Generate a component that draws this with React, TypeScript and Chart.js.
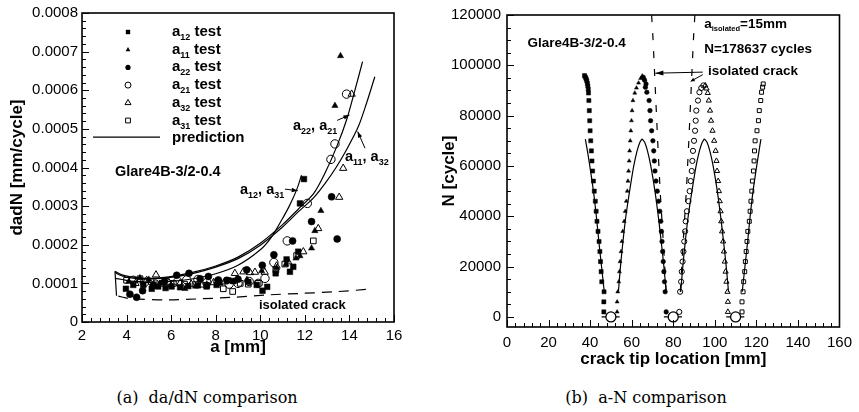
import React, { useEffect, useRef } from 'react';
import { Chart, registerables } from 'chart.js';

Chart.register(...registerables);

const FONT = '"Liberation Sans", Arial, Helvetica, sans-serif';

// ================= Panel (a): da/dN vs a =================
const aTicks = [2, 4, 6, 8, 10, 12, 14, 16];
const dadnTicks = [0, 0.0001, 0.0002, 0.0003, 0.0004, 0.0005, 0.0006, 0.0007, 0.0008];

// test data (a [mm], da/dN [mm/cycle])
const a12TestA = [3.97, 4.3, 4.75, 5.13, 5.42, 5.75, 6.02, 6.4, 6.77, 7.2, 7.59, 8.04, 8.56, 8.79, 9.46, 9.84, 10.1, 10.31, 10.69, 11.18, 11.33, 11.48, 11.7, 11.78, 11.96];
const a12TestV = [0.86e-4, 0.96e-4, 0.96e-4, 0.86e-4, 0.92e-4, 0.88e-4, 0.92e-4, 0.9e-4, 0.93e-4, 0.95e-4, 0.92e-4, 0.96e-4, 1.08e-4, 1.06e-4, 1.04e-4, 0.96e-4, 0.81e-4, 0.91e-4, 1.26e-4, 1.62e-4, 1.3e-4, 1.43e-4, 1.82e-4, 3.07e-4, 3.7e-4];

const a11TestA = [4.1, 4.6, 5.0, 5.5, 6.0, 6.62, 7.1, 7.6, 8.2, 8.8, 9.4, 10.06, 10.73, 11.15, 11.6, 11.78, 12.3, 12.45, 12.72, 13.35, 13.6];
const a11TestV = [1.05e-4, 1.14e-4, 1.1e-4, 1.0e-4, 0.95e-4, 0.86e-4, 0.92e-4, 0.98e-4, 1.0e-4, 1.05e-4, 1.1e-4, 1.32e-4, 1.4e-4, 1.49e-4, 1.65e-4, 1.71e-4, 1.91e-4, 2.36e-4, 2.88e-4, 5.6e-4, 6.89e-4];

const a22TestA = [4.15, 4.45, 4.72, 5.2, 5.7, 6.25, 6.8, 7.3, 7.67, 8.12, 8.5, 9.0, 9.39, 10.09, 10.61, 11.45, 12.3, 13.2, 13.45];
const a22TestV = [0.72e-4, 0.64e-4, 0.81e-4, 0.95e-4, 1.05e-4, 1.21e-4, 1.26e-4, 1.12e-4, 1.18e-4, 1.09e-4, 1.08e-4, 1.11e-4, 1.35e-4, 1.47e-4, 1.74e-4, 2.1e-4, 2.6e-4, 3.24e-4, 2.15e-4];

const a21TestA = [4.3, 4.8, 5.3, 5.8, 6.3, 6.7, 7.2, 7.6, 8.1, 8.6, 9.0, 9.5, 9.91, 10.21, 10.61, 11.21, 12.11, 13.17, 13.35, 13.87];
const a21TestV = [1.08e-4, 1.02e-4, 0.98e-4, 1.02e-4, 1.05e-4, 1.09e-4, 1.1e-4, 1.02e-4, 1.05e-4, 0.98e-4, 1.0e-4, 1.05e-4, 1.0e-4, 1.13e-4, 1.54e-4, 2.1e-4, 3.07e-4, 4.21e-4, 4.61e-4, 5.9e-4];

const a32TestA = [4.4, 4.9, 5.32, 5.9, 6.4, 6.9, 7.4, 7.9, 8.4, 8.86, 9.24, 9.54, 9.76, 10.2, 10.73, 11.25, 11.93, 12.6, 13.54, 13.72, 14.1];
const a32TestV = [1.0e-4, 1.08e-4, 1.22e-4, 1.02e-4, 1.0e-4, 0.98e-4, 0.96e-4, 1.02e-4, 1.04e-4, 1.26e-4, 1.3e-4, 1.28e-4, 1.29e-4, 1.29e-4, 1.45e-4, 1.56e-4, 1.82e-4, 2.42e-4, 3.23e-4, 3.98e-4, 5.9e-4];

const a31TestA = [4.0, 4.6, 5.1, 5.6, 6.1, 6.6, 7.1, 7.6, 8.34, 8.76, 9.1, 9.46, 9.9, 10.7, 11.1, 11.63, 12.38];
const a31TestV = [1.08e-4, 1.12e-4, 1.05e-4, 1.0e-4, 1.0e-4, 0.98e-4, 0.97e-4, 0.95e-4, 0.86e-4, 0.79e-4, 1.0e-4, 0.98e-4, 1.0e-4, 1.35e-4, 1.5e-4, 1.72e-4, 2.1e-4];

// predictions
const predA22A = [3.48, 3.8, 4.2, 4.8, 5.8, 7.0, 8.0, 9.0, 10.0, 11.0, 11.7, 12.4, 12.9, 13.43, 13.87, 14.25, 14.59];
const predA22V = [1.31e-4, 1.22e-4, 1.17e-4, 1.13e-4, 1.16e-4, 1.29e-4, 1.45e-4, 1.68e-4, 2.04e-4, 2.52e-4, 2.92e-4, 3.33e-4, 3.85e-4, 4.54e-4, 5.23e-4, 6.01e-4, 6.74e-4];
const predA11A = [3.48, 3.8, 4.2, 4.8, 5.8, 7.0, 8.0, 9.0, 10.0, 11.0, 11.7, 12.4, 12.9, 13.4, 13.87, 14.4, 14.77, 15.14];
const predA11V = [1.28e-4, 1.19e-4, 1.14e-4, 1.11e-4, 1.14e-4, 1.26e-4, 1.42e-4, 1.64e-4, 1.99e-4, 2.46e-4, 2.85e-4, 3.22e-4, 3.58e-4, 4.0e-4, 4.46e-4, 5.06e-4, 5.67e-4, 6.35e-4];
const predA12A = [3.48, 3.8, 4.2, 5.0, 6.0, 7.0, 8.0, 9.0, 10.0, 10.5, 10.96, 11.3, 11.63, 11.85];
const predA12V = [1.13e-4, 1.1e-4, 1.06e-4, 1.03e-4, 1.05e-4, 1.12e-4, 1.25e-4, 1.47e-4, 1.87e-4, 2.2e-4, 2.64e-4, 3.0e-4, 3.42e-4, 3.8e-4];
const predHookA = [3.48, 3.55];
const predHookV = [1.31e-4, 0.68e-4];
const isoA = [3.63, 4.0, 4.6, 5.8, 7.3, 8.8, 10.29, 11.8, 13.27, 14.92];
const isoV = [0.67e-4, 0.62e-4, 0.59e-4, 0.57e-4, 0.6e-4, 0.64e-4, 0.7e-4, 0.74e-4, 0.78e-4, 0.85e-4];

// ================= Panel (b): N vs crack tip location =================
const locTicks = [0, 20, 40, 60, 80, 100, 120, 140, 160];
const nTicks = [0, 20000, 40000, 60000, 80000, 100000, 120000];

const b12X = [46.6, 46.6, 46.7, 45.6, 45.3, 45.0, 44.7, 44.3, 43.8, 43.3, 42.9, 42.5, 42.0, 41.6, 41.2, 40.9, 40.6, 40.3, 40.0, 39.8, 39.6, 39.4, 39.2, 39.1, 38.9, 38.7, 38.4, 38.1, 37.7, 37.3];
const b12N = [2000, 6000, 10000, 14000, 18000, 22000, 26000, 30000, 34000, 38000, 42000, 46000, 50000, 54000, 58000, 62000, 66000, 70000, 74000, 78000, 82000, 86000, 89000, 90500, 91800, 92800, 93800, 94600, 95300, 95900];

const b11X = [53.0, 53.0, 53.3, 53.8, 54.1, 54.4, 54.9, 55.3, 55.7, 56.4, 56.9, 57.4, 57.9, 58.2, 58.5, 58.8, 59.0, 59.3, 59.6, 59.9, 60.2, 60.6, 61.5, 62.3, 63.3, 64.3, 65.1];
const b11N = [2000, 6000, 10000, 14000, 18000, 22000, 26000, 30000, 34000, 38000, 42000, 46000, 50000, 54000, 58000, 62000, 66000, 70000, 74000, 78000, 82000, 86000, 89000, 91000, 93000, 94800, 95800];

const b22X = [76.6, 76.1, 75.8, 75.5, 75.2, 74.9, 74.6, 74.3, 74.0, 73.5, 72.9, 72.3, 71.7, 71.2, 70.9, 70.6, 70.2, 69.6, 69.1, 68.8, 68.4, 67.3, 66.6, 66.9, 66.2, 65.6];
const b22N = [2000, 10000, 14000, 18000, 22000, 26000, 30000, 34000, 38000, 42000, 46000, 50000, 54000, 58000, 62000, 66000, 70000, 74000, 78000, 82000, 86000, 89300, 91300, 92600, 94100, 95200];

const b21X = [82.9, 83.3, 83.8, 84.1, 84.5, 84.9, 85.3, 85.7, 86.0, 86.6, 87.3, 87.9, 88.4, 88.9, 89.2, 89.5, 90.0, 90.5, 90.8, 91.1, 91.9, 92.6, 93.5, 94.5];
const b21N = [2000, 10000, 14000, 18000, 22000, 26000, 30000, 34000, 38000, 42000, 46000, 50000, 54000, 58000, 62000, 66000, 70000, 74000, 78000, 82000, 86000, 89300, 91000, 92000];

const b32X = [106.3, 106.3, 106.1, 105.6, 105.2, 104.8, 104.4, 104.0, 103.5, 103.1, 102.8, 102.4, 102.0, 101.6, 101.1, 100.8, 100.4, 99.7, 98.9, 98.2, 97.7, 97.1, 96.6, 96.0, 95.4];
const b32N = [2000, 6000, 10000, 14000, 18000, 22000, 26000, 30000, 34000, 38000, 42000, 46000, 50000, 54000, 58000, 62000, 66000, 70000, 74000, 78000, 82000, 86000, 89000, 90800, 92000];

const b31X = [113.1, 113.1, 113.6, 113.9, 114.4, 114.7, 115.1, 115.5, 115.9, 116.6, 117.0, 117.4, 117.8, 118.1, 118.6, 118.9, 119.1, 119.4, 120.3, 121.0, 121.4, 122.1, 122.5, 123.0, 123.3];
const b31N = [2000, 6000, 10000, 14000, 18000, 22000, 26000, 30000, 34000, 38000, 42000, 46000, 50000, 54000, 58000, 62000, 66000, 70000, 74000, 78000, 82000, 86000, 89300, 91300, 92600];

// predictions (b)
const pb12X = [46.8, 45.5, 44.2, 43.0, 41.6, 40.2, 38.9, 37.7];
const pb12N = [10000, 20000, 30000, 40000, 50000, 58000, 65000, 70700];
const pb11X = [53.6, 54.6, 55.8, 57.2, 59.0, 61.0, 62.6, 64.0, 65.0];
const pb11N = [10000, 20000, 30000, 40000, 50000, 60000, 66000, 69500, 70800];
const pb22X = [65.0, 66.2, 67.6, 69.2, 71.2, 72.8, 74.2, 75.5, 76.6];
const pb22N = [70800, 69500, 66000, 60000, 50000, 40000, 30000, 20000, 10000];
const pb21X = [83.6, 84.6, 85.8, 87.2, 89.0, 91.0, 92.6, 94.0, 95.0];
const pb21N = [10000, 20000, 30000, 40000, 50000, 60000, 66000, 69500, 70800];
const pb32X = [95.0, 96.2, 97.6, 99.2, 101.2, 102.8, 104.2, 105.5, 106.6];
const pb32N = [70800, 69500, 66000, 60000, 50000, 40000, 30000, 20000, 10000];
const pb31X = [113.2, 114.5, 115.8, 117.0, 118.4, 119.8, 121.1, 122.2];
const pb31N = [10000, 20000, 30000, 40000, 50000, 58000, 65000, 70700];

const isoLeftX = [76.6, 75.2, 73.7, 72.5, 71.4, 70.3, 69.6];
const isoRightX = [83.4, 84.8, 86.3, 87.5, 88.6, 89.7, 90.4];
const isoN = [10000, 30000, 50000, 70000, 90000, 110000, 120000];

const holeX = [50, 80, 110];
const holeN = [0, 0, 0];
const holeLineFrom = [45.5, 75.5, 105.5];
const holeLineTo = [54.2, 84.2, 114.2];

// ================= helpers =================
const pts = (xs: number[], ys: number[]) => xs.map((x, i) => ({ x, y: ys[i] }));

const markers = (data: any[], style: string, r: number, filled: boolean) => ({
  data,
  showLine: false,
  pointStyle: style,
  pointRadius: r,
  pointBorderWidth: filled ? 0.5 : 1,
  pointBackgroundColor: filled ? '#000' : 'rgba(0,0,0,0)',
  pointBorderColor: '#000',
  backgroundColor: filled ? '#000' : 'rgba(0,0,0,0)',
  borderColor: '#000',
});

const curve = (data: any[], dash: number[] = [], tension = 0.3, width = 1.2) => ({
  data,
  showLine: true,
  pointRadius: 0,
  borderColor: '#000',
  borderWidth: width,
  borderDash: dash,
  tension,
  fill: false,
});

type Seg = { t: string; sub?: boolean };

function drawRich(ctx: CanvasRenderingContext2D, x: number, y: number, segs: Seg[], size: number, subSize: number, subDrop: number) {
  let cx = x;
  ctx.textAlign = 'left';
  ctx.textBaseline = 'alphabetic';
  for (const s of segs) {
    ctx.font = `bold ${s.sub ? subSize : size}px ${FONT}`;
    ctx.fillText(s.t, cx, s.sub ? y + subDrop : y);
    cx += ctx.measureText(s.t).width;
  }
}

function drawMarker(ctx: CanvasRenderingContext2D, style: string, x: number, y: number, s: number, filled: boolean) {
  ctx.beginPath();
  if (style === 'rect') ctx.rect(x - s, y - s, 2 * s, 2 * s);
  else if (style === 'triangle') {
    ctx.moveTo(x, y - s * 1.15);
    ctx.lineTo(x + s, y + s * 0.6);
    ctx.lineTo(x - s, y + s * 0.6);
    ctx.closePath();
  } else ctx.arc(x, y, s, 0, Math.PI * 2);
  if (filled) ctx.fill();
  else ctx.stroke();
}

function arrow(ctx: CanvasRenderingContext2D, x1: number, y1: number, x2: number, y2: number, head = 7, w = 2.5) {
  ctx.beginPath();
  ctx.moveTo(x1, y1);
  ctx.lineTo(x2, y2);
  ctx.stroke();
  const ang = Math.atan2(y2 - y1, x2 - x1);
  const bx = x2 - head * Math.cos(ang);
  const by = y2 - head * Math.sin(ang);
  ctx.beginPath();
  ctx.moveTo(x2, y2);
  ctx.lineTo(bx + w * Math.sin(ang), by - w * Math.cos(ang));
  ctx.lineTo(bx - w * Math.sin(ang), by + w * Math.cos(ang));
  ctx.closePath();
  ctx.fill();
}

function frameAndTicks(ctx: CanvasRenderingContext2D, ca: any, xs: any, ys: any, xMajor: number, xMinor: number, yMajor: number, yMinor: number) {
  ctx.strokeStyle = '#000';
  ctx.lineWidth = 1;
  ctx.beginPath();
  const isMajor = (v: number, m: number) => Math.abs(v / m - Math.round(v / m)) < 1e-6;
  for (let k = Math.ceil(xs.min / xMinor - 1e-9); k <= Math.floor(xs.max / xMinor + 1e-9); k++) {
    const v = k * xMinor;
    const len = isMajor(v, xMajor) ? 7 : 4;
    const p = Math.round(xs.getPixelForValue(v)) + 0.5;
    ctx.moveTo(p, ca.bottom);
    ctx.lineTo(p, ca.bottom - len);
  }
  for (let k = Math.ceil(ys.min / yMinor - 1e-9); k <= Math.floor(ys.max / yMinor + 1e-9); k++) {
    const v = k * yMinor;
    const len = isMajor(v, yMajor) ? 7 : 4;
    const p = Math.round(ys.getPixelForValue(v)) + 0.5;
    ctx.moveTo(ca.left, p);
    ctx.lineTo(ca.left + len, p);
  }
  ctx.stroke();
  ctx.lineWidth = 1.6;
  ctx.strokeRect(ca.left, ca.top, ca.right - ca.left, ca.bottom - ca.top);
}

const legendA: { segs: Seg[]; style: string; size: number; filled: boolean }[] = [
  { segs: [{ t: 'a' }, { t: '12', sub: true }, { t: ' test' }], style: 'rect', size: 2.2, filled: true },
  { segs: [{ t: 'a' }, { t: '11', sub: true }, { t: ' test' }], style: 'triangle', size: 2.4, filled: true },
  { segs: [{ t: 'a' }, { t: '22', sub: true }, { t: ' test' }], style: 'circle', size: 2.6, filled: true },
  { segs: [{ t: 'a' }, { t: '21', sub: true }, { t: ' test' }], style: 'circle', size: 3, filled: false },
  { segs: [{ t: 'a' }, { t: '32', sub: true }, { t: ' test' }], style: 'triangle', size: 3, filled: false },
  { segs: [{ t: 'a' }, { t: '31', sub: true }, { t: ' test' }], style: 'rect', size: 2.4, filled: false },
];

const leftPlugin = {
  id: 'leftDeco',
  afterDraw(chart: any) {
    const { ctx, chartArea: ca } = chart;
    const xs = chart.scales.x;
    const ys = chart.scales.y;
    const X = (v: number) => xs.getPixelForValue(v);
    const Y = (v: number) => ys.getPixelForValue(v);
    ctx.save();
    frameAndTicks(ctx, ca, xs, ys, 2, 0.4, 0.0001, 0.00002);
    ctx.fillStyle = '#000';
    ctx.strokeStyle = '#000';
    ctx.lineWidth = 1;
    // legend
    legendA.forEach((it, i) => {
      const base = ca.top + 23 + i * 17.7;
      drawMarker(ctx, it.style, ca.left + 46, base - 4, it.size, it.filled);
      drawRich(ctx, ca.left + 90, base, it.segs, 15, 9, 4);
    });
    const pb = ca.top + 23 + 6 * 17.7;
    ctx.lineWidth = 1.2;
    ctx.beginPath();
    ctx.moveTo(ca.left + 11, pb - 5);
    ctx.lineTo(ca.left + 78, pb - 5);
    ctx.stroke();
    drawRich(ctx, ca.left + 90, pb, [{ t: 'prediction' }], 15, 9, 4);
    // annotations
    drawRich(ctx, X(3.48), Y(0.000378), [{ t: 'Glare4B-3/2-0.4' }], 14.5, 9, 4);
    drawRich(ctx, X(11.47), Y(0.000496), [{ t: 'a' }, { t: '22', sub: true }, { t: ', a' }, { t: '21', sub: true }], 14.5, 9, 4);
    drawRich(ctx, X(13.8), Y(0.000418), [{ t: 'a' }, { t: '11', sub: true }, { t: ', a' }, { t: '32', sub: true }], 14.5, 9, 4);
    drawRich(ctx, X(9.09), Y(0.000331), [{ t: 'a' }, { t: '12', sub: true }, { t: ', a' }, { t: '31', sub: true }], 14.5, 9, 4);
    drawRich(ctx, X(9.94), Y(0.0000345), [{ t: 'isolated crack' }], 13, 9, 4);
    ctx.lineWidth = 1;
    arrow(ctx, X(13.45), Y(0.000522), X(14.0), Y(0.000536), 6, 2.2);
    arrow(ctx, X(14.7), Y(0.00045), X(14.37), Y(0.000493), 6, 2.2);
    arrow(ctx, X(11.11), Y(0.000344), X(11.68), Y(0.00034), 6, 2.2);
    ctx.restore();
  },
};

const rightPlugin = {
  id: 'rightDeco',
  afterDraw(chart: any) {
    const { ctx, chartArea: ca } = chart;
    const xs = chart.scales.x;
    const ys = chart.scales.y;
    const X = (v: number) => xs.getPixelForValue(v);
    const Y = (v: number) => ys.getPixelForValue(v);
    ctx.save();
    frameAndTicks(ctx, ca, xs, ys, 20, 4, 20000, 5000);
    ctx.fillStyle = '#000';
    ctx.strokeStyle = '#000';
    drawRich(ctx, X(9.9), Y(107150), [{ t: 'Glare4B-3/2-0.4' }], 13.5, 8, 3);
    drawRich(ctx, X(94.9), Y(115000), [{ t: 'a' }, { t: 'isolated', sub: true }, { t: '=15mm' }], 13.5, 7.5, 3);
    drawRich(ctx, X(94.9), Y(104960), [{ t: 'N=178637 cycles' }], 13.5, 8, 3);
    drawRich(ctx, X(96.7), Y(96200), [{ t: 'isolated crack' }], 13.5, 8, 3);
    ctx.lineWidth = 1;
    arrow(ctx, X(94.2), Y(97300), X(71.4), Y(96870), 8, 2.5);
    arrow(ctx, X(94.2), Y(96300), X(88.4), Y(93630), 4, 2);
    ctx.restore();
  },
};

function axisCommon(min: number, max: number, ticks: number[], fmt: (v: number) => string, pad: number) {
  return {
    type: 'linear' as const,
    min,
    max,
    afterBuildTicks: (s: any) => {
      s.ticks = ticks.map((v) => ({ value: v }));
    },
    grid: { display: false, drawTicks: false },
    border: { display: false },
    ticks: {
      color: '#000',
      font: { family: FONT, size: 15 },
      padding: pad,
      autoSkip: false,
      maxRotation: 0,
      callback: (v: any) => fmt(Number(v)),
    },
  };
}

function leftConfig(): any {
  return {
    type: 'scatter',
    data: {
      datasets: [
        markers(pts(a12TestA, a12TestV), 'rect', 4, true),
        markers(pts(a11TestA, a11TestV), 'triangle', 3.6, true),
        markers(pts(a22TestA, a22TestV), 'circle', 3.5, true),
        markers(pts(a21TestA, a21TestV), 'circle', 4.2, false),
        markers(pts(a32TestA, a32TestV), 'triangle', 4.2, false),
        markers(pts(a31TestA, a31TestV), 'rect', 4, false),
        curve(pts(predA22A, predA22V)),
        curve(pts(predA11A, predA11V)),
        curve(pts(predA12A, predA12V)),
        curve(pts(predHookA, predHookV), [], 0),
        curve(pts(isoA, isoV), [10, 7], 0.3),
      ],
    },
    options: {
      animation: false,
      responsive: false,
      events: [],
      layout: { padding: { left: 0, right: 36, top: 13, bottom: 0 } },
      plugins: { legend: { display: false }, tooltip: { enabled: false } },
      scales: {
        x: {
          ...axisCommon(2, 16, aTicks, (v) => String(v), 5),
          afterFit: (s: any) => {
            s.height = 48;
          },
          title: { display: true, text: 'a [mm]', color: '#000', font: { family: FONT, size: 17, weight: 'bold' }, padding: { top: 0, bottom: 12 } },
        },
        y: {
          ...axisCommon(0, 0.0008, dadnTicks, (v) => (Math.abs(v) < 1e-12 ? '0' : v.toFixed(4)), 4),
          afterFit: (s: any) => {
            s.width = 82;
          },
          title: { display: true, text: 'dadN [mm/cycle]', color: '#000', font: { family: FONT, size: 17, weight: 'bold' }, padding: { top: 7, bottom: 0 } },
        },
      },
    },
    plugins: [leftPlugin],
  };
}

function rightConfig(): any {
  return {
    type: 'scatter',
    data: {
      datasets: [
        {
          ...markers(pts(holeX, holeN), 'circle', 5, false),
          pointBackgroundColor: '#fff',
          pointBorderWidth: 1.3,
        },
        markers(pts(b12X, b12N), 'rect', 2.9, true),
        markers(pts(b11X, b11N), 'triangle', 2.3, true),
        markers(pts(b22X, b22N), 'circle', 2.3, true),
        markers(pts(b21X, b21N), 'circle', 2.6, false),
        markers(pts(b32X, b32N), 'triangle', 3, false),
        markers(pts(b31X, b31N), 'rect', 2.8, false),
        curve(pts(pb12X, pb12N)),
        curve(pts(pb11X, pb11N)),
        curve(pts(pb22X, pb22N)),
        curve(pts(pb21X, pb21N)),
        curve(pts(pb32X, pb32N)),
        curve(pts(pb31X, pb31N)),
        curve(pts(isoLeftX, isoN), [7, 11], 0),
        curve(pts(isoRightX, isoN), [7, 11], 0),
        ...holeLineFrom.map((x0, i) => curve(pts([x0, holeLineTo[i]], [holeN[i], holeN[i]]), [], 0, 1.3)),
      ],
    },
    options: {
      animation: false,
      responsive: false,
      events: [],
      layout: { padding: { left: 0, right: 13, top: 10, bottom: 0 } },
      plugins: { legend: { display: false }, tooltip: { enabled: false } },
      scales: {
        x: {
          ...axisCommon(0, 160, locTicks, (v) => String(v), 7),
          afterFit: (s: any) => {
            s.height = 43;
          },
          title: { display: true, text: 'crack tip location [mm]', color: '#000', font: { family: FONT, size: 17, weight: 'bold' }, padding: { top: 0, bottom: 0 } },
        },
        y: {
          ...axisCommon(-4000, 120000, nTicks, (v) => String(v), 6),
          afterFit: (s: any) => {
            s.width = 77;
          },
          title: { display: true, text: 'N [cycle]', color: '#000', font: { family: FONT, size: 17, weight: 'bold' }, padding: { top: 9, bottom: 0 } },
        },
      },
    },
    plugins: [rightPlugin],
  };
}

const captionStyle = (cx: number): React.CSSProperties => ({
  position: 'absolute',
  left: cx,
  top: 390,
  transform: 'translateX(-50%)',
  whiteSpace: 'nowrap',
  fontFamily: '"DejaVu Serif", serif',
  fontSize: 16,
  lineHeight: '16px',
  color: '#000',
});

export default function App() {
  const leftRef = useRef<HTMLCanvasElement>(null);
  const rightRef = useRef<HTMLCanvasElement>(null);
  useEffect(() => {
    const c1 = new Chart(leftRef.current as HTMLCanvasElement, leftConfig());
    const c2 = new Chart(rightRef.current as HTMLCanvasElement, rightConfig());
    return () => {
      c1.destroy();
      c2.destroy();
    };
  }, []);
  return (
    <div style={{ position: 'absolute', left: 0, top: 0, width: 859, height: 412, background: '#fff', overflow: 'hidden' }}>
      <canvas ref={leftRef} width={430} height={370} style={{ position: 'absolute', left: 0, top: 0, width: 430, height: 370 }} />
      <canvas ref={rightRef} width={429} height={370} style={{ position: 'absolute', left: 430, top: 0, width: 429, height: 370 }} />
      <div style={captionStyle(207)}>(a)&nbsp;&nbsp;da/dN comparison</div>
      <div style={captionStyle(646)}>(b)&nbsp;&nbsp;a-N comparison</div>
    </div>
  );
}
